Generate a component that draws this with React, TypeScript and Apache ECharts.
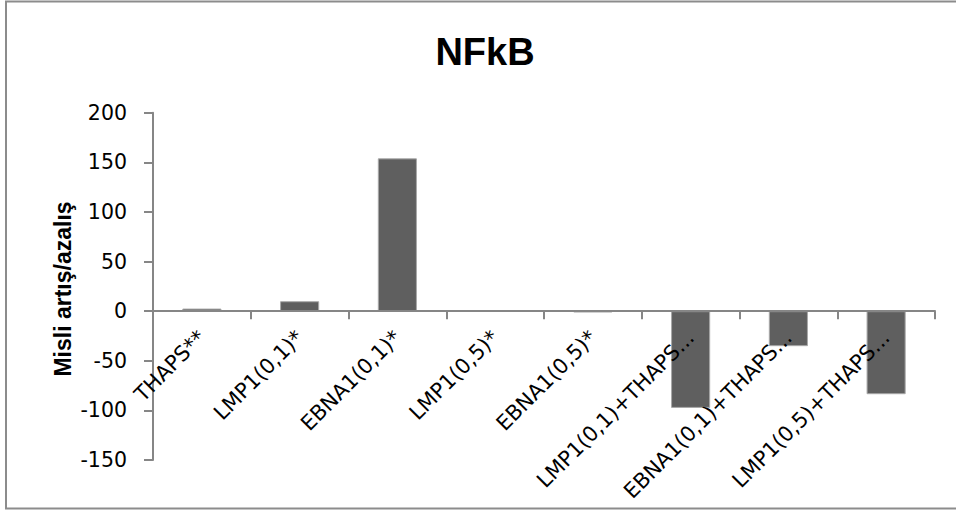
import React, { useEffect, useRef } from "react";
import * as echarts from "echarts";

// Fold change of NFkB per treatment
const categories = [
  "THAPS**",
  "LMP1(0,1)*",
  "EBNA1(0,1)*",
  "LMP1(0,5)*",
  "EBNA1(0,5)*",
  "LMP1(0,1)+THAPS...",
  "EBNA1(0,1)+THAPS...",
  "LMP1(0,5)+THAPS...",
];
const foldChange = [2.6, 10, 154, 0.8, -1.3, -97.5, -35.3, -83.7];

const yMin = -150;
const yMax = 200;
const yStep = 50;

const titleText = "NFkB";
const yAxisTitle = "Misli artış/azalış";

const AXIS_GREY = "#868686";
const BAR_GREY = "#5f5f5f";

const GRID_TOP = 112.7;
const GRID_BOTTOM = 50;
const CHART_H = 510;

export default function App() {
  const ref = useRef<HTMLDivElement>(null);

  useEffect(() => {
    if (!ref.current) return;
    const chart = echarts.init(ref.current, null, { renderer: "svg" });
    // distance from the grid's bottom edge up to the value 0, so the
    // category axis (line, ticks and labels) sits on the zero line
    const plotH = CHART_H - GRID_TOP - GRID_BOTTOM;
    const zeroLift = (plotH * (0 - yMin)) / (yMax - yMin);
    chart.setOption({
      animation: false,
      backgroundColor: "#ffffff",
      grid: {
        left: 153,
        right: 21,
        top: GRID_TOP,
        bottom: GRID_BOTTOM,
        containLabel: false,
        outerBoundsMode: "none",
      },
      graphic: [
        {
          type: "rect",
          shape: { x: 6, y: 1.5, width: 970, height: 507 },
          style: { fill: "none", stroke: "#8c8c8c", lineWidth: 2 },
          silent: true,
        },
        {
          type: "text",
          x: 485,
          y: 52,
          style: {
            text: titleText,
            fontFamily: "Liberation Sans",
            fontWeight: "bold",
            fontSize: 38,
            fill: "#000",
            align: "center",
            verticalAlign: "middle",
          },
        },
        {
          type: "text",
          x: 63,
          y: 289,
          rotation: Math.PI / 2,
          style: {
            text: yAxisTitle,
            fontFamily: "Liberation Sans",
            fontWeight: "bold",
            fontSize: 23,
            fill: "#000",
            align: "center",
            verticalAlign: "middle",
          },
        },
      ],
      xAxis: {
        type: "category",
        data: categories,
        boundaryGap: true,
        offset: -zeroLift,
        z: 5,
        axisLine: { onZero: false, lineStyle: { color: AXIS_GREY, width: 2 } },
        axisTick: {
          show: true,
          alignWithLabel: false,
          length: 8,
          lineStyle: { color: AXIS_GREY, width: 2 },
        },
        axisLabel: {
          interval: 0,
          rotate: 45,
          margin: 23,
          color: "#000",
          fontFamily: "DejaVu Sans",
          fontSize: 21,
        },
        splitLine: { show: false },
      },
      yAxis: {
        type: "value",
        min: yMin,
        max: yMax,
        interval: yStep,
        axisLine: { show: true, lineStyle: { color: AXIS_GREY, width: 2 } },
        axisTick: {
          show: true,
          length: 9,
          lineStyle: { color: AXIS_GREY, width: 2 },
        },
        axisLabel: {
          margin: 26,
          color: "#000",
          fontFamily: "DejaVu Sans",
          fontSize: 20.5,
        },
        splitLine: { show: false },
      },
      series: [
        {
          type: "bar",
          data: foldChange,
          barWidth: "40%",
          z: 2,
          itemStyle: {
            color: BAR_GREY,
            borderColor: "#a8a8a8",
            borderWidth: 1,
          },
        },
      ],
    });
    return () => chart.dispose();
  }, []);

  return (
    <div
      ref={ref}
      style={{ position: "fixed", left: 0, top: 0, width: 956, height: 510 }}
    />
  );
}
